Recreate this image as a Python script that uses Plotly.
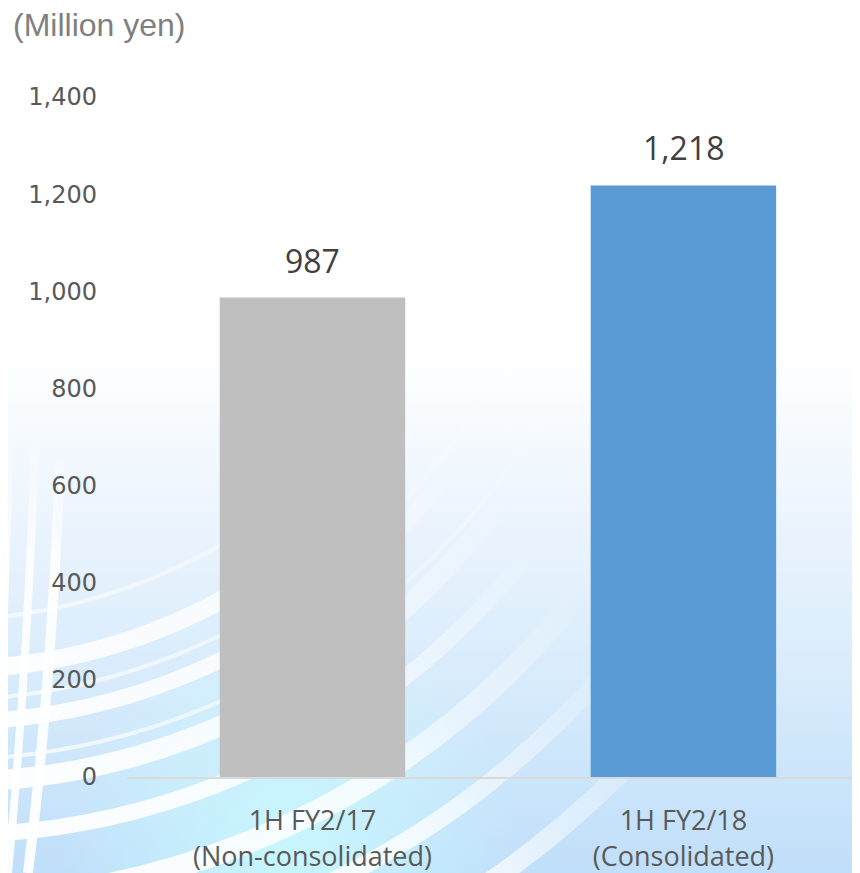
import base64
import math
import plotly.graph_objects as go

# ---------------- data ----------------
periods = ["1H FY2/17", "1H FY2/18"]
scopes = ["(Non-consolidated)", "(Consolidated)"]
sales = [987, 1218]
bar_colors = ["#bfbfbf", "#5b9bd5"]
y_tick_vals = [0, 200, 400, 600, 800, 1000, 1200, 1400]
unit_label = "(Million yen)"

categories = [f"{p}<br>{s}" for p, s in zip(periods, scopes)]

# ---------------- layout geometry ----------------
OFF = 8                       # page body margin in the browser
PAGE_W, PAGE_H = 860, 873
W, H = PAGE_W - OFF, PAGE_H - OFF
L, R, T, B = 127 - OFF, 0, 97 - OFF, 96
PW, PH = W - L - R, H - T - B

# ---------------- decorative background (SVG, page coordinates) ----------------
def arc_path(cx, cy, r, x0):
    y0 = cy + math.sqrt(max(r * r - (x0 - cx) ** 2, 0))
    return f"M {x0} {y0:.1f} A {r} {r} 0 0 0 {cx + r} {cy}"

bands = []
for r, sw in [(569, 18), (622, 16), (682, 20), (735, 16), (800, 22), (870, 18), (950, 20)]:
    bands.append(f'<path d="{arc_path(-50, 100, r, -60)}" stroke="url(#fadeA)" stroke-width="{sw}" fill="none"/>')
thin = []
for r in [560, 640, 700]:
    thin.append(f'<path d="{arc_path(-60, 60, r, -60)}" stroke="url(#fadeC)" stroke-width="4" fill="none"/>')
vert = [
    '<path d="M 10 430 Q 4 650 -6 873" stroke="url(#fadeB)" stroke-width="7" fill="none"/>',
    '<path d="M 35 440 Q 28 660 8 873" stroke="url(#fadeB)" stroke-width="8" fill="none"/>',
    '<path d="M 60 460 Q 52 680 28 873" stroke="url(#fadeB)" stroke-width="10" fill="none"/>',
]

svg = f'''<svg xmlns="http://www.w3.org/2000/svg" width="{W}" height="{H}" viewBox="{OFF} {OFF} {W} {H}" preserveAspectRatio="none">
<defs>
<linearGradient id="bg" x1="0" y1="0" x2="0" y2="{PAGE_H}" gradientUnits="userSpaceOnUse">
<stop offset="0" stop-color="#ffffff"/>
<stop offset="0.40" stop-color="#ffffff"/>
<stop offset="0.60" stop-color="#ebf4fd"/>
<stop offset="0.82" stop-color="#d3e9fb"/>
<stop offset="1" stop-color="#c0dffa"/>
</linearGradient>
<radialGradient id="cy" cx="290" cy="850" r="230" gradientUnits="userSpaceOnUse">
<stop offset="0" stop-color="#c8fbff" stop-opacity="0.85"/>
<stop offset="1" stop-color="#c8fbff" stop-opacity="0"/>
</radialGradient>
<linearGradient id="fadeA" x1="0" y1="800" x2="420" y2="420" gradientUnits="userSpaceOnUse">
<stop offset="0" stop-color="#ffffff" stop-opacity="0.95"/>
<stop offset="0.5" stop-color="#ffffff" stop-opacity="0.8"/>
<stop offset="1" stop-color="#ffffff" stop-opacity="0"/>
</linearGradient>
<linearGradient id="fadeC" x1="200" y1="850" x2="560" y2="380" gradientUnits="userSpaceOnUse">
<stop offset="0" stop-color="#ffffff" stop-opacity="0.7"/>
<stop offset="1" stop-color="#ffffff" stop-opacity="0"/>
</linearGradient>
<linearGradient id="fadeB" x1="0" y1="420" x2="0" y2="873" gradientUnits="userSpaceOnUse">
<stop offset="0" stop-color="#ffffff" stop-opacity="0"/>
<stop offset="0.3" stop-color="#ffffff" stop-opacity="0.85"/>
<stop offset="1" stop-color="#ffffff" stop-opacity="0.95"/>
</linearGradient>
</defs>
<rect x="0" y="0" width="{PAGE_W}" height="{PAGE_H}" fill="url(#bg)"/>
<rect x="0" y="500" width="{PAGE_W}" height="373" fill="url(#cy)"/>
{''.join(vert)}
{''.join(bands)}
{''.join(thin)}
</svg>'''
bg_src = "data:image/svg+xml;base64," + base64.b64encode(svg.encode()).decode()

# ---------------- figure ----------------
fig = go.Figure()
fig.add_trace(go.Bar(
    x=categories,
    y=sales,
    marker=dict(color=bar_colors, line=dict(width=0)),
    width=0.5,
    hoverinfo="skip",
))

for c, v in zip(categories, sales):
    fig.add_annotation(
        x=c, y=v, xref="x", yref="y",
        text=f"{v:,}", showarrow=False,
        yanchor="bottom", yshift=14,
        font=dict(family="Open Sans", size=32, color="#404040"),
    )

fig.add_annotation(
    xref="paper", yref="paper",
    x=(11 - OFF - L) / PW, y=1 + T / PH,
    xanchor="left", yanchor="top", yshift=3,
    text=unit_label, showarrow=False,
    font=dict(family="Liberation Sans, Arial", size=32, color="#7f7f7f"),
)

fig.add_layout_image(dict(
    source=bg_src, xref="paper", yref="paper",
    x=-L / PW, y=1 + T / PH, sizex=W / PW, sizey=H / PH,
    xanchor="left", yanchor="top", sizing="stretch", layer="below",
))

fig.update_layout(
    width=W, height=H,
    margin=dict(l=L, r=R, t=T, b=B, pad=0),
    paper_bgcolor="#ffffff",
    plot_bgcolor="rgba(0,0,0,0)",
    showlegend=False,
    bargap=0.5,
)
fig.update_xaxes(
    range=[-0.5, 1.476],
    showgrid=False, zeroline=False,
    showline=True, linecolor="#d9d9d9", linewidth=2,
    ticks="", ticklabelstandoff=19,
    tickfont=dict(family="Open Sans", size=27, color="#595959"),
)
fig.update_yaxes(
    range=[0, 1400],
    tickvals=y_tick_vals, tickformat=",",
    showgrid=False, zeroline=False, showline=False,
    ticks="", ticklabelstandoff=29,
    tickfont=dict(family="DejaVu Sans", size=24, color="#595959"),
)

fig.write_html("out.html")
